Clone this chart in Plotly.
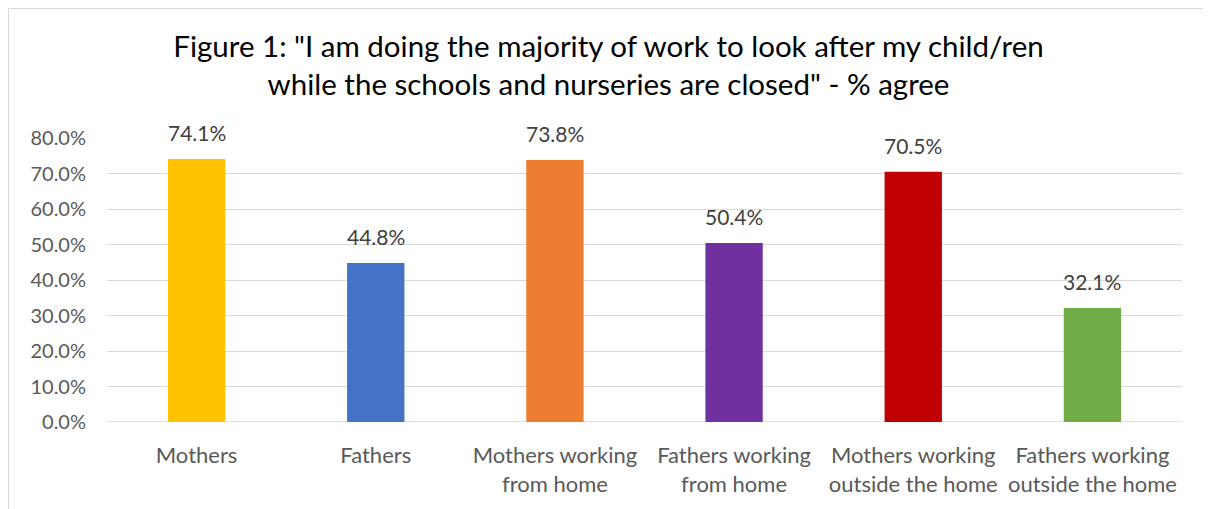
import plotly.graph_objects as go

categories = ["Mothers", "Fathers", "Mothers working<br>from home", "Fathers working<br>from home",
              "Mothers working<br>outside the home", "Fathers working<br>outside the home"]
values = [74.1, 44.8, 73.8, 50.4, 70.5, 32.1]
colors = ["#FFC000", "#4472C4", "#ED7D31", "#7030A0", "#C00000", "#70AD47"]
yticks = [0, 10, 20, 30, 40, 50, 60, 70, 80]
ytick_labels = [f"{v:.1f}%" for v in yticks]

FONT = "Lato"
W, H = 1201, 501
L, R, T, B = 99, 27, 130, 87
PW, PH = W - L - R, H - T - B

fig = go.Figure(go.Bar(x=categories, y=values, marker_color=colors, marker_line_width=0))

for c, v in zip(categories, values):
    fig.add_annotation(x=c, y=v, text=f"{v:.1f}%", showarrow=False, yanchor="bottom", yshift=12,
                       font=dict(family=FONT, size=21, color="#404040"))

fig.update_layout(
    width=W, height=H,
    margin=dict(l=L, r=R, t=T, b=B),
    paper_bgcolor="white", plot_bgcolor="white",
    bargap=0.68,
    showlegend=False,
    title=dict(text='Figure 1: "I am doing the majority of work to look after my child/ren<br>while the schools and nurseries are closed" - % agree',
               x=0.5, xanchor="center", y=0.902, yanchor="middle",
               font=dict(family=FONT, size=29.5, color="#000000")),
    xaxis=dict(showgrid=False, showline=False, ticks="", ticklabelstandoff=18,
               tickfont=dict(family=FONT, size=22, color="#595959")),
    yaxis=dict(range=[0, 80], tickvals=yticks, ticktext=ytick_labels, showgrid=True, gridcolor="#D9D9D9",
               gridwidth=1, zeroline=False, showline=False, ticks="", ticklen=0, ticklabelstandoff=20,
               tickfont=dict(family=FONT, size=20, color="#595959")),
)

fig.add_shape(type="rect", xref="paper", yref="paper",
              x0=(0.5 - L) / PW, x1=1 + (R - 0.5) / PW,
              y0=-(B + 20) / PH, y1=1 + (T - 0.5) / PH,
              line=dict(color="#D9D9D9", width=1), fillcolor="rgba(0,0,0,0)", layer="below")
fig.add_shape(type="line", xref="paper", yref="y", x0=0, x1=1, y0=0, y1=0,
              line=dict(color="#D9D9D9", width=1.5), layer="below")

fig.write_html("out.html")
